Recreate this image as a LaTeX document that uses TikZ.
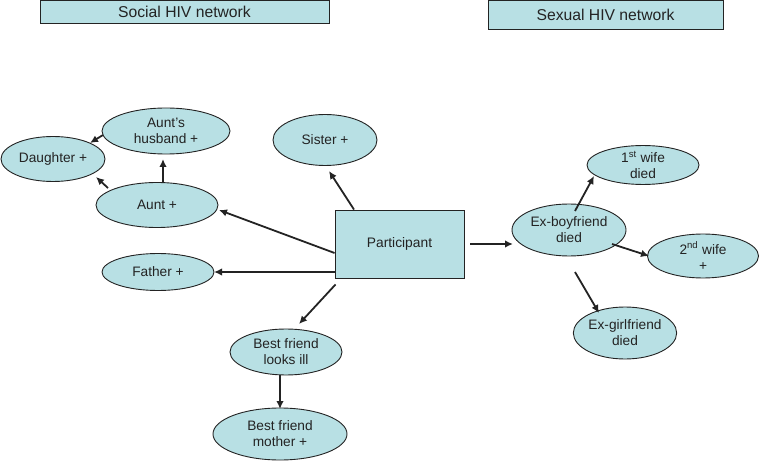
\documentclass[tikz,border=0pt]{standalone}
\usepackage{fontspec}
\setmainfont{Liberation Sans}
\usetikzlibrary{shapes.geometric,arrows.meta,calc}
\definecolor{nodefill}{RGB}{184,224,228}
\definecolor{inkc}{RGB}{35,35,35}
\tikzset{
  ell/.style={ellipse,draw=inkc,line width=0.9pt,fill=nodefill,inner sep=0pt,
    align=center,text=inkc,font=\fontsize{13.7}{16}\selectfont},
  boxn/.style={rectangle,draw=inkc,line width=0.9pt,fill=nodefill,inner sep=0pt,
    align=center,text=inkc},
  arr/.style={draw=inkc,line width=1.8pt,-{Latex[length=8pt,width=7.5pt]}}
}
\begin{document}
\begin{tikzpicture}[x=1pt,y=1pt]
\useasboundingbox (0,0) rectangle (760,461);
% headers
\node[boxn,minimum width=289pt,minimum height=23pt,font=\fontsize{15.7}{18}\selectfont] (soc) at (184.5,449) {Social HIV network};
\node[boxn,minimum width=235pt,minimum height=29pt,font=\fontsize{15.7}{18}\selectfont] (sex) at (605.5,446) {Sexual HIV network};
% central
\node[boxn,minimum width=129pt,minimum height=68pt,font=\fontsize{13.8}{16}\selectfont] (part) at (399.5,217) {Participant};
% social
\node[ell,minimum width=104pt,minimum height=45pt] (dau) at (53,302) {Daughter +};
\node[ell,minimum width=128pt,minimum height=46pt] (hus) at (166,330) {Aunt's\\husband +};
\node[ell,minimum width=104pt,minimum height=51pt] (sis) at (325,321) {Sister +};
\node[ell,minimum width=122pt,minimum height=45pt] (aunt) at (157,256) {Aunt +};
\node[ell,minimum width=112pt,minimum height=37pt] (fat) at (158,189) {Father +};
\node[ell,minimum width=112pt,minimum height=46pt] (bf) at (286,109) {Best friend\\looks ill};
\node[ell,minimum width=134pt,minimum height=52pt] (bfm) at (280,27) {Best friend\\mother +};
% sexual
\node[ell,minimum width=114pt,minimum height=52pt] (exb) at (569,231) {Ex-boyfriend\\died};
\node[ell,minimum width=112pt,minimum height=38pt] (w1) at (643,296) {1\textsuperscript{st} wife\\died};
\node[ell,minimum width=111pt,minimum height=44pt] (w2) at (703,205) {2\textsuperscript{nd} wife\\+};
\node[ell,minimum width=88pt,minimum height=52pt] (exg) at (625,128) {Ex-girlfriend\\died};
% connectors
\draw[arr] ($(hus)+(-63,-4)$) -- ($(dau)+(37,16)$);
\draw[arr] ($(aunt)+(6,22)$) -- ($(hus)+(-3,-28)$);
\draw[arr] ($(aunt)+(-49,17)$) -- ($(dau)+(43,-18)$);
\draw[arr] ($(part.west)+(0,-9)$) -- ($(aunt)+(62,-5)$);
\draw[arr] ($(part.west)+(0,-28)$) -- ($(fat)+(56,0)$);
\draw[arr] ($(part.north)+(-45.5,0)$) -- ($(sis)+(4,-31)$);
\draw[arr] ($(part.south west)+(1,-6)$) -- ($(bf)+(13,28)$);
\draw[arr] ($(bf.south)+(-6,0)$) -- ($(bfm)+(0,25)$);
\draw[arr] ($(part.east)+(6,0)$) -- ($(exb)+(-56,-14)$);
\draw[arr] ($(exb)+(6,19)$) -- ($(w1)+(-49,-11)$);
\draw[arr] ($(exb)+(43,-14)$) -- ($(w2)+(-54,0)$);
\draw[arr] ($(exb)+(6,-42)$) -- ($(exg)+(-26,20)$);
\end{tikzpicture}
\end{document}
